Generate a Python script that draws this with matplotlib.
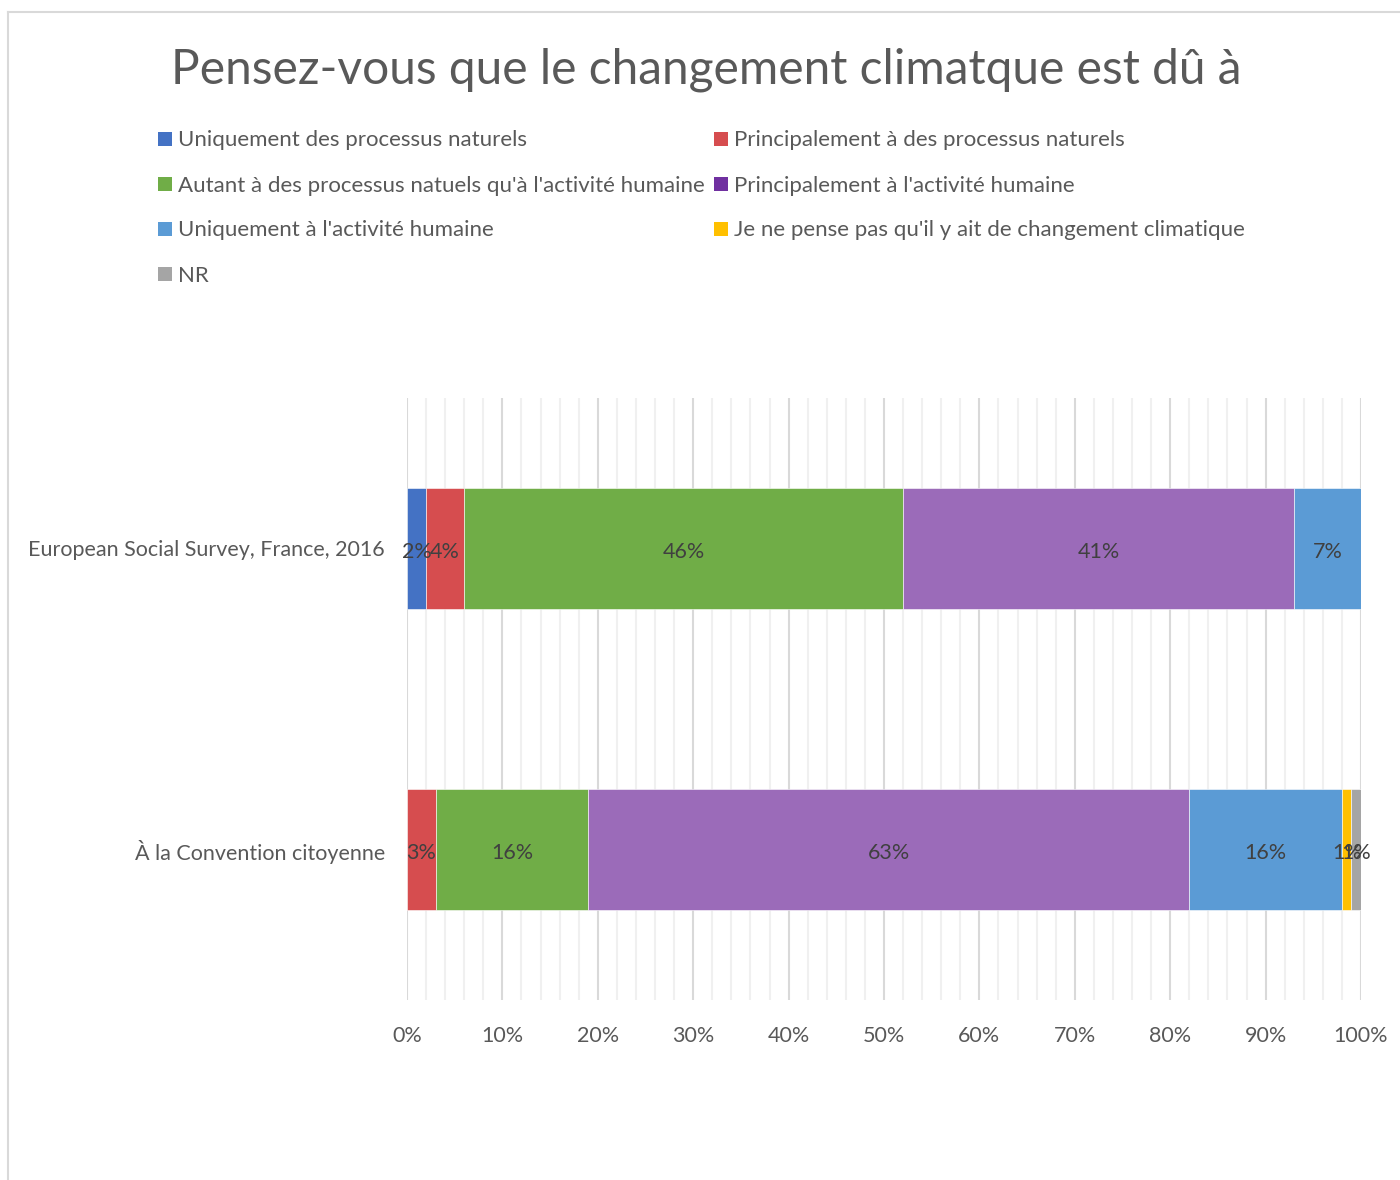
import matplotlib
matplotlib.use("Agg")
import matplotlib.pyplot as plt
from matplotlib.lines import Line2D
from matplotlib.patches import Rectangle
from matplotlib.ticker import MultipleLocator, PercentFormatter

plt.rcParams['font.family'] = ['Lato', 'DejaVu Sans']

categories = ["European Social Survey, France, 2016", "À la Convention citoyenne"]
series = [
    "Uniquement des processus naturels",
    "Principalement à des processus naturels",
    "Autant à des processus natuels qu'à l'activité humaine",
    "Principalement à l'activité humaine",
    "Uniquement à l'activité humaine",
    "Je ne pense pas qu'il y ait de changement climatique",
    "NR",
]
ess_values = [2, 4, 46, 41, 7, 0, 0]
convention_values = [0, 3, 16, 63, 16, 1, 1]
values = [ess_values, convention_values]
tick_values = list(range(0, 101, 10))

bar_colors = ["#4472C4", "#D64D4F", "#70AD47", "#9B6BB9", "#5B9BD5", "#FFC000", "#A5A5A5"]
legend_colors = ["#4472C4", "#D64D4F", "#70AD47", "#7030A0", "#5B9BD5", "#FFC000", "#A5A5A5"]

W, H = 1400, 1180
fig = plt.figure(figsize=(W / 100, H / 100), dpi=100)

def fx(px):
    return px / W

def fy(py):
    return 1 - py / H

# frame
fig.add_artist(Line2D([fx(8), fx(8)], [fy(12), 0], color="#D9D9D9", lw=1.5, transform=fig.transFigure))
fig.add_artist(Line2D([fx(8), 1], [fy(12), fy(12)], color="#D9D9D9", lw=1.5, transform=fig.transFigure))

# title
fig.text(fx(706), fy(70), "Pensez-vous que le changement climatque est dû à", ha="center", va="center",
         fontsize=34.5, color="#595959")

# legend (manual, 2 columns)
col_x = [158, 714]
row_y = [139, 184, 229, 274]
for i, (name, c) in enumerate(zip(series, legend_colors)):
    r, col = divmod(i, 2)
    x0 = col_x[col]
    y0 = row_y[r]
    fig.add_artist(Rectangle((fx(x0), fy(y0 + 7)), fx(14), 14 / H, transform=fig.transFigure,
                             facecolor=c, edgecolor="none"))
    fig.text(fx(x0 + 20), fy(y0 + 1.5), name, ha="left", va="center", fontsize=16, color="#595959")

ax = fig.add_axes([fx(407), fy(1000), fx(1361) - fx(407), (1000 - 398) / H])
ypos = [1, 0]
for k, name in enumerate(series):
    left = [sum(v[:k]) for v in values]
    vals = [v[k] for v in values]
    ax.barh(ypos, vals, left=left, height=0.4, color=bar_colors[k], edgecolor="white", linewidth=0.4, zorder=3)
    for y, l, v in zip(ypos, left, vals):
        if v > 0:
            ax.text(l + v / 2, y - 0.01, f"{v}%", ha="center", va="center", fontsize=15.5, color="#404040", zorder=4)

ax.set_xlim(0, 100)
ax.set_ylim(-0.5, 1.5)
ax.set_yticks(ypos)
ax.set_yticklabels(categories, fontsize=15.5, color="#595959")
ax.set_xticks(tick_values)
ax.xaxis.set_major_formatter(PercentFormatter(decimals=0))
ax.xaxis.set_minor_locator(MultipleLocator(2))
ax.tick_params(axis="x", which="both", length=0, labelsize=15.5, labelcolor="#595959", pad=19)
ax.tick_params(axis="y", length=0, pad=16)
ax.grid(axis="x", which="major", color="#D9D9D9", lw=1.5, zorder=0)
ax.grid(axis="x", which="minor", color="#F0F0F0", lw=1.5, zorder=0)
ax.set_axisbelow(True)
for s in ax.spines.values():
    s.set_visible(False)

fig.savefig("out.png", dpi=100)
